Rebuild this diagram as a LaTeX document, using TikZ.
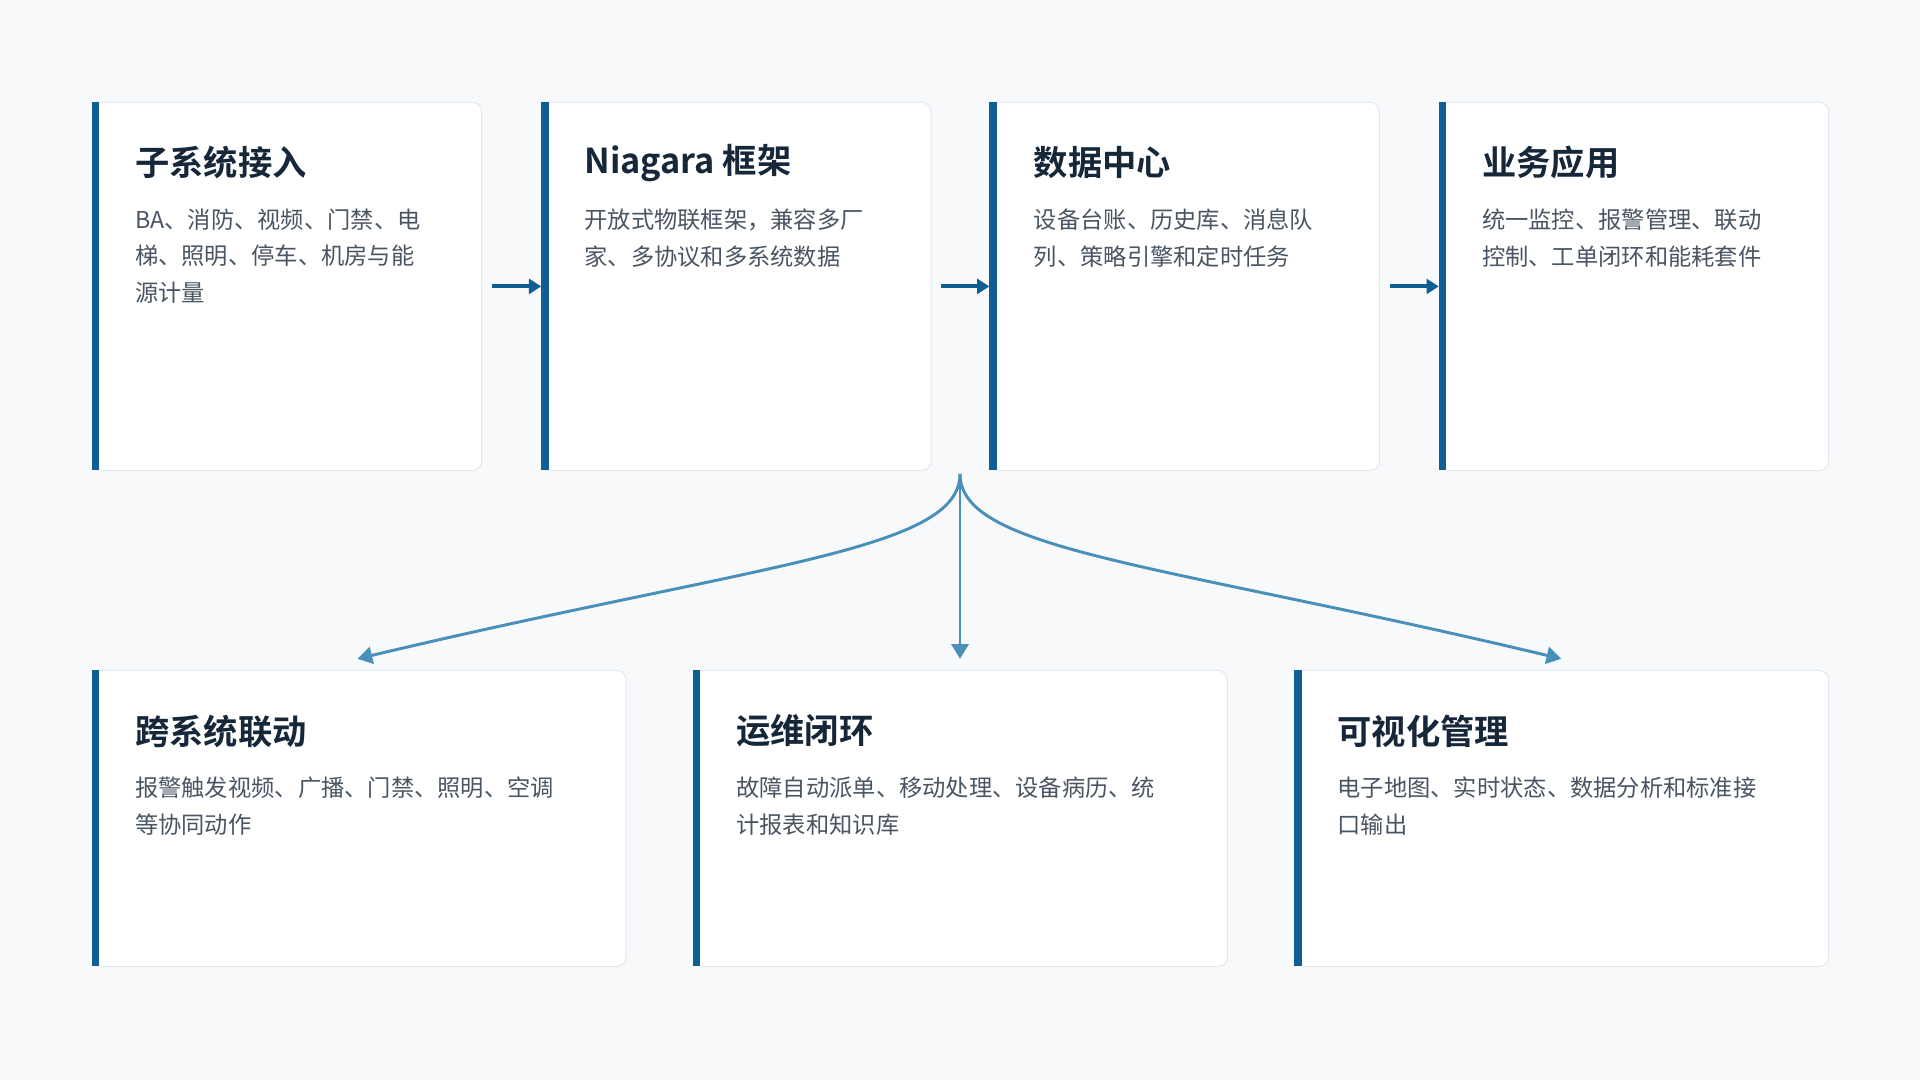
\documentclass[tikz,border=0pt]{standalone}
\usepackage{fontspec}
\setmainfont{Noto Sans CJK SC}[BoldFont={Noto Sans CJK SC Bold}]
\usepackage{tikz}
\usetikzlibrary{arrows.meta, positioning}
\definecolor{bgc}{HTML}{F7F9FB}
\definecolor{barc}{HTML}{0F5F95}
\definecolor{linkc}{HTML}{4A8FB8}
\definecolor{titc}{HTML}{17273A}
\definecolor{txtc}{HTML}{4A5563}
\definecolor{edgec}{HTML}{E3E8EE}

\begin{document}
\begin{tikzpicture}[x=0.5pt, y=-0.5pt]
	\tikzset{
		card/.style = {draw=edgec, fill=white, rounded corners=4pt, anchor=north west, inner sep=0},
		bar/.style = {fill=barc},
		title/.style = {anchor=west, font=\bfseries\fontsize{14}{16}\selectfont, text=titc, inner sep=0},
		body/.style = {anchor=north west, align=left, font=\fontsize{9.5}{15}\selectfont, text=txtc, inner sep=0},
		flow/.style = {draw=barc, line width=1.6pt, -{Triangle[length=5pt, width=6pt]}},
		fan/.style = {draw=linkc, line width=1.2pt, -{Triangle[length=6pt, width=7pt]}}
	}
	\fill[bgc] (0,0) rectangle (1568,882);

	% top row
	\foreach \name/\x in {sub/75, nia/442, dc/808, app/1175} {
		\node[card, minimum width=159pt, minimum height=150.5pt] (\name) at (\x,83) {};
		\fill[bar] (\x,83) rectangle ++(6,301);
	}
	\node[title] (subT) at (110,133) {子系统接入};
	\node[body] (subB) at (110,170) {BA、消防、视频、门禁、电\\梯、照明、停车、机房与能\\源计量};
	\node[title] (niaT) at (477,133) {Niagara 框架};
	\node[body] (niaB) at (477,170) {开放式物联框架，兼容多厂\\家、多协议和多系统数据};
	\node[title] (dcT) at (844,133) {数据中心};
	\node[body] (dcB) at (844,170) {设备台账、历史库、消息队\\列、策略引擎和定时任务};
	\node[title] (appT) at (1210,133) {业务应用};
	\node[body] (appB) at (1210,170) {统一监控、报警管理、联动\\控制、工单闭环和能耗套件};

	% bottom row
	\foreach \name/\x in {link/75, ops/566, vis/1057} {
		\node[card, minimum width=218pt, minimum height=121pt] (\name) at (\x,547) {};
		\fill[bar] (\x,547) rectangle ++(6,242);
	}
	\node[title] (linkT) at (110,597) {跨系统联动};
	\node[body] (linkB) at (110,634) {报警触发视频、广播、门禁、照明、空调\\等协同动作};
	\node[title] (opsT) at (601,597) {运维闭环};
	\node[body] (opsB) at (601,634) {故障自动派单、移动处理、设备病历、统\\计报表和知识库};
	\node[title] (visT) at (1092,597) {可视化管理};
	\node[body] (visB) at (1092,634) {电子地图、实时状态、数据分析和标准接\\口输出};

	% connectors
	\draw[flow] ([xshift=4pt]sub.east) -- (nia.west);
	\draw[flow] ([xshift=4pt]nia.east) -- (dc.west);
	\draw[flow] ([xshift=4pt]dc.east) -- (app.west);

	\coordinate (hub) at (784,387);
	\coordinate (linkIn) at (292,538);
	\coordinate (opsIn) at (784,538);
	\coordinate (visIn) at (1275,538);
	\draw[fan] (hub) .. controls (784,450) and (620,460) .. (linkIn);
	\draw[fan] (hub) -- (opsIn);
	\draw[fan] (hub) .. controls (784,450) and (948,460) .. (visIn);
\end{tikzpicture}
\end{document}
